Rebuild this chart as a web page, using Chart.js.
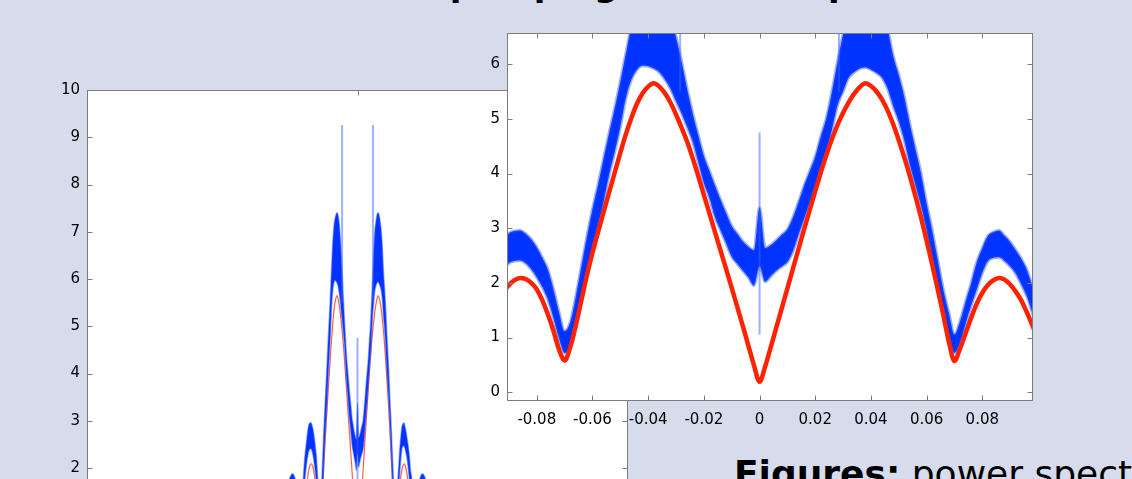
<!DOCTYPE html>
<html>
<head>
<meta charset="utf-8">
<script src="https://cdn.jsdelivr.net/npm/chart.js@4.4.1/dist/chart.umd.min.js"></script>
<style>
    html, body {
        margin: 0;
        padding: 0;
        width: 1132px;
        height: 479px;
        overflow: hidden;
        background: #d6dcec;
        font-family: 'DejaVu Sans', sans-serif;
    }
    .title {
        position: absolute;
        left: 228px;
        top: -36px;
        font-size: 34px;
        line-height: 40px;
        font-weight: bold;
        white-space: nowrap;
        color: #000;
    }
    .caption {
        position: absolute;
        left: 734px;
        top: 452px;
        font-size: 36px;
        line-height: 44px;
        white-space: nowrap;
        color: #000;
    }
    .wide {
        position: absolute;
        left: 0;
        top: 0;
        width: 639px;
        height: 600px;
    }
    .zoomed {
        position: absolute;
        left: 460px;
        top: 0;
        width: 600px;
        height: 440px;
    }
</style>
</head>
<body>
<div class="title">Parametric pumping from the spectrum</div>
<div class="wide"><canvas id="wideChart"></canvas></div>
<div class="zoomed"><canvas id="zoomChart"></canvas></div>
<div class="caption"><b>Figures:</b> power spectrum</div>

<script>
const freq = [
    -0.152, -0.146, -0.140, -0.136, -0.132, -0.128, -0.124, -0.120, -0.116, -0.112, -0.108, -0.106, -0.104, -0.102, -0.100,
    -0.098, -0.096, -0.094, -0.092, -0.090, -0.088, -0.086, -0.084, -0.082, -0.080,
    -0.078, -0.076, -0.074, -0.072, -0.070, -0.068, -0.066, -0.064, -0.062, -0.060,
    -0.058, -0.056, -0.054, -0.052, -0.050, -0.048, -0.046, -0.044, -0.042, -0.040,
    -0.038, -0.036, -0.034, -0.032, -0.030, -0.028, -0.026, -0.024, -0.022, -0.020,
    -0.018, -0.016, -0.014, -0.012, -0.010, -0.008, -0.006, -0.004, -0.002,
    0,
    0.002, 0.004, 0.006, 0.008, 0.010, 0.012, 0.014, 0.016, 0.018, 0.020,
    0.022, 0.024, 0.026, 0.028, 0.030, 0.032, 0.034, 0.036, 0.038, 0.040,
    0.042, 0.044, 0.046, 0.048, 0.050, 0.052, 0.054, 0.056, 0.058, 0.060,
    0.062, 0.064, 0.066, 0.068, 0.070, 0.072, 0.074, 0.076, 0.078, 0.080,
    0.082, 0.084, 0.086, 0.088, 0.090, 0.092, 0.094, 0.096, 0.098,
    0.100, 0.102, 0.104, 0.106, 0.108, 0.112, 0.116, 0.120, 0.124, 0.128, 0.132, 0.136, 0.140, 0.146, 0.152,
];

// model (red)
const modelPower = [
    0.90, 0.75, 0.60, 0.72, 0.95, 1.20, 1.35, 1.38, 1.25, 1.00, 0.72, 0.60, 0.62, 0.78, 0.98,
    1.20, 1.43, 1.64, 1.82, 1.96, 2.05, 2.09, 2.07, 2.00, 1.88,
    1.68, 1.42, 1.12, 0.78, 0.58, 0.82, 1.22, 1.68, 2.14, 2.55,
    2.93, 3.30, 3.66, 4.02, 4.38, 4.72, 5.02, 5.28, 5.47, 5.59,
    5.65, 5.59, 5.47, 5.30, 5.08, 4.84, 4.58, 4.28, 3.95, 3.61,
    3.27, 2.93, 2.59, 2.25, 1.91, 1.56, 1.21, 0.85, 0.49,
    0.19,
    0.47, 0.82, 1.18, 1.54, 1.90, 2.26, 2.62, 2.98, 3.33, 3.68,
    4.02, 4.34, 4.63, 4.89, 5.11, 5.30, 5.46, 5.58, 5.65, 5.60,
    5.50, 5.35, 5.15, 4.90, 4.61, 4.29, 3.95, 3.58, 3.19, 2.77,
    2.33, 1.88, 1.41, 0.92, 0.57, 0.80, 1.08, 1.36, 1.62, 1.82,
    1.96, 2.05, 2.09, 2.06, 1.97, 1.84, 1.68, 1.46, 1.22,
    0.98, 0.78, 0.62, 0.60, 0.72, 1.00, 1.25, 1.38, 1.35, 1.20, 0.95, 0.72, 0.60, 0.75, 0.90,
];

// measured band (blue), lower and upper edge
const measuredLow = [
    0.95, 0.85, 0.80, 0.88, 1.08, 1.30, 1.45, 1.50, 1.45, 1.25, 1.00, 0.90, 0.90, 1.05, 1.35,
    1.68, 1.90, 2.10, 2.25, 2.36, 2.40, 2.41, 2.36, 2.25, 2.10,
    1.92, 1.69, 1.35, 0.98, 0.72, 0.82, 1.18, 1.62, 2.15, 2.65,
    3.05, 3.48, 3.98, 4.40, 4.85, 5.38, 5.72, 5.90, 5.97, 5.96,
    5.92, 5.85, 5.72, 5.55, 5.32, 5.10, 4.85, 4.58, 4.20, 3.82,
    3.55, 3.20, 2.96, 2.72, 2.48, 2.35, 2.22, 2.10, 1.95,
    2.30,
    2.02, 2.12, 2.22, 2.30, 2.38, 2.58, 2.88, 3.17, 3.46, 3.76,
    4.10, 4.40, 4.80, 5.25, 5.50, 5.75, 5.85, 5.92, 5.94, 5.90,
    5.84, 5.75, 5.55, 5.23, 4.95, 4.60, 4.15, 3.78, 3.40, 2.95,
    2.45, 1.88, 1.42, 1.00, 0.72, 0.90, 1.25, 1.58, 1.88, 2.18,
    2.40, 2.46, 2.47, 2.40, 2.30, 2.17, 1.97, 1.75, 1.45,
    1.20, 1.00, 0.90, 0.90, 1.00, 1.25, 1.45, 1.50, 1.45, 1.30, 1.08, 0.88, 0.80, 0.85, 0.95,
];

const measuredHigh = [
    1.30, 1.15, 1.10, 1.18, 1.40, 1.65, 1.82, 1.88, 1.80, 1.62, 1.35, 1.22, 1.22, 1.42, 1.80,
    2.15, 2.38, 2.58, 2.78, 2.91, 2.95, 2.96, 2.90, 2.80, 2.65,
    2.46, 2.24, 1.88, 1.46, 1.12, 1.28, 1.75, 2.30, 2.85, 3.35,
    3.80, 4.28, 4.75, 5.20, 5.68, 6.20, 6.70, 7.05, 7.25, 7.35,
    7.40, 7.35, 7.20, 6.90, 6.50, 6.05, 5.55, 5.10, 4.70, 4.32,
    4.05, 3.78, 3.52, 3.28, 3.04, 2.90, 2.76, 2.66, 2.60,
    3.38,
    2.64, 2.69, 2.78, 2.88, 2.98, 3.20, 3.48, 3.78, 4.04, 4.31,
    4.68, 5.02, 5.50, 6.05, 6.55, 7.00, 7.20, 7.35, 7.40, 7.35,
    7.20, 7.00, 6.65, 6.15, 5.80, 5.40, 4.90, 4.45, 4.00, 3.45,
    2.96, 2.42, 1.88, 1.45, 1.06, 1.30, 1.66, 2.00, 2.38, 2.64,
    2.86, 2.93, 2.96, 2.86, 2.75, 2.60, 2.44, 2.24, 1.95,
    1.80, 1.42, 1.22, 1.22, 1.35, 1.62, 1.80, 1.88, 1.82, 1.65, 1.40, 1.18, 1.10, 1.15, 1.30,
];

// narrow lines
const spikeFreq = [-0.0285, 0, 0.0285];
const spikeLow = [5.5, 1.05, 5.5];
const spikeHigh = [9.26, 4.75, 9.26];

const wideXTicks = [-0.5, 0, 0.5];
const wideYTicks = [0, 1, 2, 3, 4, 5, 6, 7, 8, 9, 10];
const wideYLabels = ['0', '1', '2', '3', '4', '5', '6', '7', '8', '9', '10'];

const zoomXTicks = [-0.08, -0.06, -0.04, -0.02, 0, 0.02, 0.04, 0.06, 0.08];
const zoomXLabels = ['-0.08', '-0.06', '-0.04', '-0.02', '0', '0.02', '0.04', '0.06', '0.08'];
const zoomYTicks = [0, 1, 2, 3, 4, 5, 6];
const zoomYLabels = ['0', '1', '2', '3', '4', '5', '6'];

const toPoints = (ys) => freq.map((f, i) => ({ x: f, y: ys[i] }));

const spikePoints = [];
spikeFreq.forEach((f, i) => {
    spikePoints.push({ x: f, y: spikeLow[i] });
    spikePoints.push({ x: f, y: spikeHigh[i] });
    spikePoints.push({ x: f, y: null });
});

const framePlugin = {
    id: 'frame',
    beforeDraw(chart) {
        const { ctx, chartArea: a } = chart;
        ctx.save();
        ctx.fillStyle = '#fff';
        ctx.fillRect(a.left, a.top, a.right - a.left, a.bottom - a.top);
        ctx.restore();
    },
    afterDatasetsDraw(chart) {
        const { ctx, chartArea: a } = chart;
        const x = chart.scales.x;
        const y = chart.scales.y;
        const l = Math.round(a.left) + 0.5;
        const r = Math.round(a.right) - 0.5;
        const t = Math.round(a.top) + 0.5;
        const b = Math.round(a.bottom) - 0.5;
        ctx.save();
        ctx.strokeStyle = '#7d7d7d';
        ctx.lineWidth = 1;
        ctx.strokeRect(l, t, r - l, b - t);
        ctx.beginPath();
        x.ticks.forEach((tick) => {
            const px = Math.round(x.getPixelForValue(tick.value)) + 0.5;
            ctx.moveTo(px, t);
            ctx.lineTo(px, t + 5);
            ctx.moveTo(px, b);
            ctx.lineTo(px, b - 5);
        });
        y.ticks.forEach((tick) => {
            const py = Math.round(y.getPixelForValue(tick.value)) + 0.5;
            ctx.moveTo(l, py);
            ctx.lineTo(l + 5, py);
            ctx.moveTo(r, py);
            ctx.lineTo(r - 5, py);
        });
        ctx.stroke();
        ctx.restore();
    },
};

Chart.defaults.font.family = "'DejaVu Sans', sans-serif";
Chart.defaults.font.size = 15;
Chart.defaults.color = '#000';

const buildDatasets = (wide) => [
    {
        label: 'model',
        data: toPoints(modelPower),
        borderColor: wide ? 'rgba(255, 40, 10, 0.75)' : '#ff2200',
        borderWidth: wide ? 1.2 : 4.5,
        cubicInterpolationMode: 'monotone',
        pointRadius: 0,
        fill: false,
        order: wide ? 3 : 0,
    },
    {
        label: 'low',
        data: toPoints(measuredLow),
        borderColor: 'rgba(40, 80, 255, 0.45)',
        borderWidth: wide ? 1.5 : 3,
        cubicInterpolationMode: 'monotone',
        pointRadius: 0,
        fill: false,
        order: 2,
    },
    {
        label: 'high',
        data: toPoints(measuredHigh),
        borderColor: 'rgba(40, 80, 255, 0.45)',
        backgroundColor: '#0033ff',
        borderWidth: wide ? 1.5 : 3,
        cubicInterpolationMode: 'monotone',
        pointRadius: 0,
        fill: '-1',
        order: 2,
    },
    {
        label: 'spikes',
        data: spikePoints,
        borderColor: 'rgba(60, 100, 255, 0.5)',
        borderWidth: 2,
        tension: 0,
        spanGaps: false,
        pointRadius: 0,
        fill: false,
        order: 1,
    },
];

const wideChart = new Chart(document.getElementById('wideChart').getContext('2d'), {
    type: 'line',
    data: { datasets: buildDatasets(true) },
    options: {
        responsive: true,
        maintainAspectRatio: false,
        animation: false,
        devicePixelRatio: 1,
        layout: { padding: { top: 90, right: 11, bottom: 0, left: 0 } },
        plugins: { legend: { display: false }, tooltip: { enabled: false } },
        scales: {
            x: {
                type: 'linear',
                min: -0.5,
                max: 0.5,
                afterBuildTicks: (axis) => { axis.ticks = wideXTicks.map((v) => ({ value: v })); },
                afterFit: (axis) => { axis.height = 37.5; },
                grid: { display: false },
                border: { display: false },
                ticks: { display: false },
            },
            y: {
                min: 0,
                max: 10,
                afterBuildTicks: (axis) => { axis.ticks = wideYTicks.map((v) => ({ value: v })); },
                afterFit: (axis) => { axis.width = 87; },
                grid: { display: false, drawTicks: false },
                border: { display: false },
                ticks: {
                    padding: 7,
                    autoSkip: false,
                    callback: (val, i) => wideYLabels[i],
                },
            },
        },
    },
    plugins: [framePlugin],
});

const zoomChart = new Chart(document.getElementById('zoomChart').getContext('2d'), {
    type: 'line',
    data: { datasets: buildDatasets(false) },
    options: {
        responsive: true,
        maintainAspectRatio: false,
        animation: false,
        devicePixelRatio: 1,
        layout: { padding: { top: 33, right: 27, bottom: 0, left: 0 } },
        plugins: { legend: { display: false }, tooltip: { enabled: false } },
        scales: {
            x: {
                type: 'linear',
                min: -0.0907,
                max: 0.0982,
                afterBuildTicks: (axis) => { axis.ticks = zoomXTicks.map((v) => ({ value: v })); },
                afterFit: (axis) => { axis.height = 39; },
                grid: { display: false, drawTicks: false },
                border: { display: false },
                ticks: {
                    padding: 10,
                    autoSkip: false,
                    maxRotation: 0,
                    callback: (val, i) => zoomXLabels[i],
                },
            },
            y: {
                min: -0.16,
                max: 6.57,
                afterBuildTicks: (axis) => { axis.ticks = zoomYTicks.map((v) => ({ value: v })); },
                afterFit: (axis) => { axis.width = 47; },
                grid: { display: false, drawTicks: false },
                border: { display: false },
                ticks: {
                    padding: 7,
                    autoSkip: false,
                    callback: (val, i) => zoomYLabels[i],
                },
            },
        },
    },
    plugins: [framePlugin],
});
</script>
</body>
</html>
